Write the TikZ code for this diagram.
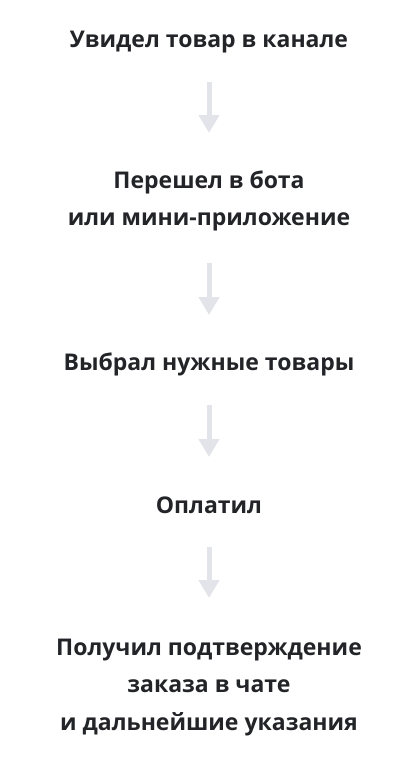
\documentclass[tikz,border=0pt]{standalone}
\usepackage{fontspec}
\setmainfont{Open Sans}
\usetikzlibrary{arrows.meta}
\definecolor{stepText}{HTML}{232428}
\definecolor{stepArrow}{HTML}{E2E4E9}

\begin{document}
\begin{tikzpicture}[x=1pt, y=1pt,
    stepnode/.style={align=center, text=stepText, font=\fontsize{23}{37.5}\selectfont\bfseries, inner sep=0pt, anchor=base},
    flow/.style={draw=stepArrow, line width=5pt, -{Triangle[width=20pt, length=18pt]}}]
                \useasboundingbox (0,0) rectangle (418,-764);
                % Steps (base = last line)
                \node[stepnode] (seen) at (209,-47) {Увидел товар в канале};
                \node[stepnode] (bot) at (209,-225.5) {Перешел в бота\\или мини-приложение};
                \node[stepnode] (pick) at (209,-370) {Выбрал нужные товары};
                \node[stepnode] (paid) at (209,-513) {Оплатил};
                \node[stepnode] (done) at (209,-730) {Получил подтверждение\\заказа в чате\\и дальнейшие указания};

                \draw[flow] ([yshift=-35pt]seen.base) -- ([yshift=92.5pt]bot.base);
                \draw[flow] ([yshift=-37.5pt]bot.base) -- ([yshift=55pt]pick.base);
                \draw[flow] ([yshift=-35pt]pick.base) -- ([yshift=56pt]paid.base);
                \draw[flow] ([yshift=-34pt]paid.base) -- ([yshift=132pt]done.base);
            \end{tikzpicture}
\end{document}
